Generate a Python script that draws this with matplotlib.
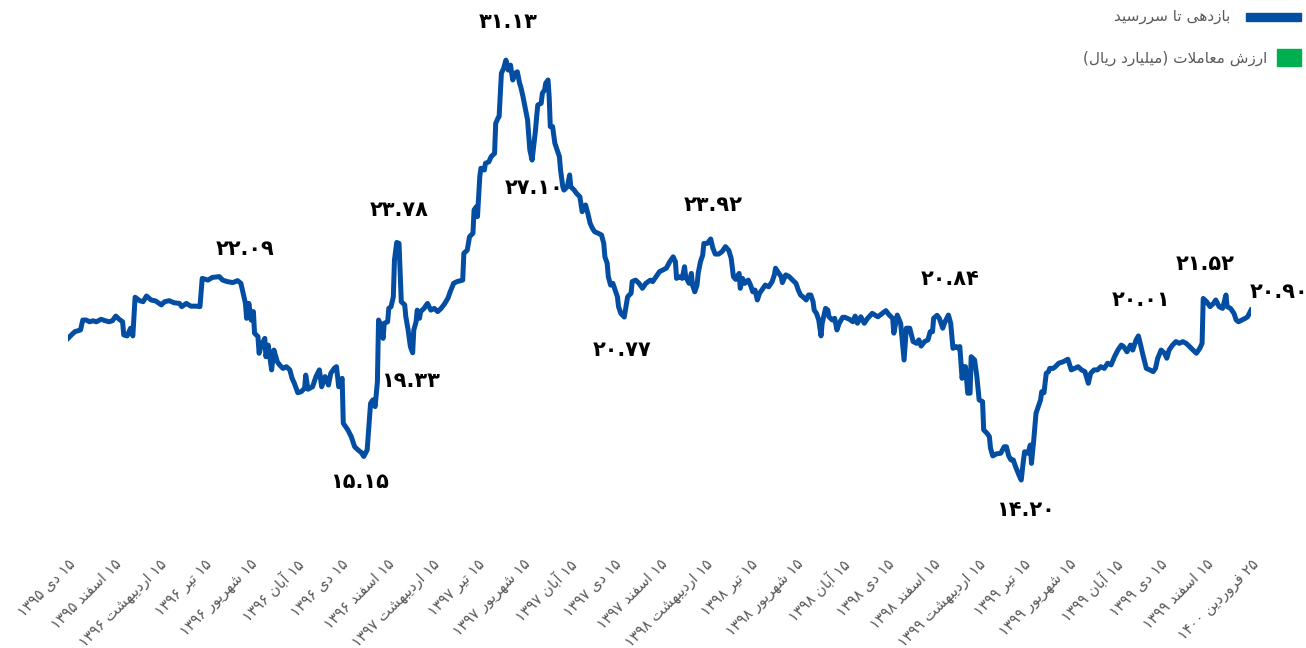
import re

import matplotlib
matplotlib.use("Agg")
import matplotlib.pyplot as plt
from matplotlib.patches import Rectangle

plt.rcParams['font.family'] = ['DejaVu Sans']

# trading-day number and yield to maturity (%)
days = [
    0, 3, 6, 9, 11, 13, 16, 19, 22, 25,
    29, 33, 36, 39, 42, 45, 48, 49, 52, 55,
    57, 59, 63, 66, 69, 73, 77, 82, 85, 89,
    93, 98, 100, 104, 108, 113, 116, 118, 123, 127,
    133, 136, 140, 145, 149, 152, 154, 156, 157, 159,
    161, 163, 164, 167, 168, 170, 173, 174, 176, 178,
    179, 181, 184, 186, 189, 192, 195, 197, 199, 202,
    205, 208, 209, 211, 215, 218, 221, 223, 226, 229,
    231, 234, 236, 238, 241, 242, 246, 249, 252, 255,
    258, 260, 263, 266, 268, 270, 272, 273, 275, 277,
    278, 281, 282, 284, 286, 287, 289, 291, 293, 296,
    297, 299, 301, 303, 304, 306, 307, 309, 310, 313,
    316, 319, 322, 325, 328, 331, 334, 336, 339, 342,
    347, 348, 351, 353, 356, 357, 359, 360, 362, 363,
    366, 367, 370, 372, 375, 376, 378, 379, 381, 383,
    385, 387, 389, 391, 393, 395, 397, 398, 400, 402,
    404, 406, 408, 409, 411, 412, 413, 416, 417, 419,
    420, 422, 423, 424, 426, 428, 430, 432, 433, 435,
    436, 439, 441, 442, 445, 447, 450, 452, 454, 455,
    457, 459, 461, 463, 466, 469, 471, 472, 474, 475,
    477, 479, 481, 483, 484, 486, 489, 490, 492, 495,
    496, 499, 502, 505, 508, 512, 514, 517, 520, 523,
    526, 529, 532, 534, 535, 537, 540, 542, 543, 546,
    548, 549, 551, 553, 554, 556, 558, 559, 562, 565,
    567, 569, 572, 575, 578, 581, 583, 585, 587, 590,
    591, 593, 595, 598, 600, 602, 604, 606, 608, 611,
    613, 616, 619, 621, 622, 625, 627, 628, 631, 634,
    637, 640, 642, 644, 646, 649, 651, 653, 655, 656,
    658, 660, 662, 663, 666, 668, 669, 672, 674, 676,
    678, 681, 683, 687, 690, 692, 694, 697, 700, 703,
    707, 712, 716, 719, 722, 725, 726, 729, 732, 735,
    737, 740, 743, 746, 748, 750, 753, 756, 758, 760,
    761, 764, 766, 769, 771, 774, 776, 778, 781, 783,
    784, 786, 788, 789, 791, 793, 794, 797, 799, 801,
    804, 805, 808, 810, 811, 813, 816, 820, 823, 825,
    827, 829, 831, 833, 836, 838, 840, 841, 844, 846,
    847, 849, 851, 853, 855, 856, 858, 860, 862, 863,
    866, 868, 871, 875, 879, 882, 885, 888, 891, 894,
    897, 899, 902, 905, 908, 911, 914, 917, 920, 923,
    926, 928, 931, 934, 936, 939, 941, 943, 945, 948,
    951, 954, 956, 958, 961, 964, 966, 968, 971, 974,
    977, 980, 983, 986, 989, 992, 995, 997, 998, 1001,
    1004, 1007, 1009, 1012, 1015, 1018, 1019, 1022, 1025, 1027,
    1029, 1032, 1035, 1037, 1040,
]
ytm = [
    19.91, 20.05, 20.18, 20.22, 20.25, 20.65, 20.65, 20.58, 20.62, 20.58,
    20.68, 20.62, 20.58, 20.62, 20.81, 20.68, 20.58, 20.05, 20.01, 20.32,
    20.01, 21.57, 21.43, 21.39, 21.62, 21.46, 21.42, 21.26, 21.39, 21.43,
    21.35, 21.32, 21.19, 21.32, 21.21, 21.21, 21.19, 22.33, 22.26, 22.37,
    22.40, 22.26, 22.20, 22.16, 22.24, 22.13, 21.73, 21.32, 20.72, 21.32,
    20.65, 20.99, 20.12, 19.98, 19.31, 19.64, 19.91, 19.17, 19.64, 18.97,
    18.64, 19.44, 18.97, 18.84, 18.70, 18.77, 18.64, 18.30, 18.10, 17.72,
    17.76, 17.90, 18.43, 17.86, 17.96, 18.37, 18.64, 17.96, 18.37, 18.03,
    18.50, 18.70, 18.77, 17.96, 18.30, 16.49, 16.22, 15.95, 15.54, 15.41,
    15.30, 15.15, 15.41, 17.29, 17.43, 17.16, 18.16, 20.65, 20.45, 19.91,
    20.52, 20.58, 21.12, 21.19, 21.59, 23.07, 23.78, 23.74, 21.39, 21.26,
    20.78, 20.25, 19.58, 19.33, 20.25, 20.58, 21.05, 20.72, 20.99, 21.12,
    21.32, 21.05, 21.12, 20.99, 21.12, 21.30, 21.53, 21.79, 22.13, 22.20,
    22.26, 23.34, 23.47, 24.01, 24.15, 25.09, 25.22, 24.82, 26.43, 26.77,
    26.70, 26.97, 27.03, 27.24, 27.37, 28.58, 28.79, 28.85, 30.60, 30.80,
    31.13, 30.73, 30.93, 30.33, 30.60, 30.66, 30.20, 30.06, 29.66, 29.19,
    28.72, 27.51, 27.10, 27.51, 28.31, 28.85, 29.32, 29.39, 29.79, 29.93,
    30.20, 30.33, 29.66, 28.45, 28.45, 27.78, 27.51, 27.24, 26.70, 26.03,
    25.89, 26.03, 26.50, 26.03, 25.89, 25.76, 25.62, 25.02, 25.22, 25.29,
    24.95, 24.55, 24.35, 24.21, 24.15, 24.08, 23.74, 23.20, 22.94, 22.40,
    22.06, 22.13, 21.86, 21.59, 21.19, 20.92, 20.77, 21.05, 21.59, 21.73,
    22.20, 22.26, 22.13, 21.93, 22.13, 22.26, 22.20, 22.40, 22.60, 22.67,
    22.74, 23.00, 23.20, 23.00, 22.33, 22.40, 22.33, 22.80, 22.40, 22.13,
    22.53, 22.06, 21.79, 22.06, 22.53, 23.00, 23.27, 23.74, 23.74, 23.92,
    23.54, 23.31, 23.31, 23.41, 23.61, 23.45, 23.14, 22.40, 22.29, 22.53,
    21.93, 22.33, 22.13, 22.26, 22.06, 21.79, 21.86, 21.46, 21.73, 21.93,
    22.06, 21.99, 22.20, 22.47, 22.74, 22.53, 22.40, 22.16, 22.47, 22.40,
    22.26, 22.13, 21.86, 21.66, 21.59, 21.46, 21.66, 21.66, 21.39, 21.05,
    20.92, 20.65, 20.01, 20.52, 21.12, 21.05, 20.78, 20.65, 20.72, 20.25,
    20.52, 20.76, 20.76, 20.68, 20.58, 20.81, 20.52, 20.78, 20.52, 20.72,
    20.92, 20.78, 20.92, 21.03, 20.85, 20.72, 20.12, 20.85, 20.52, 19.04,
    20.32, 20.32, 19.78, 19.71, 19.85, 19.60, 19.78, 19.85, 20.18, 20.18,
    20.72, 20.84, 20.72, 20.32, 20.58, 20.85, 20.52, 19.51, 19.58, 19.51,
    19.58, 18.30, 18.77, 18.77, 17.70, 17.70, 19.17, 19.04, 18.37, 17.43,
    17.36, 16.22, 16.08, 15.95, 15.48, 15.17, 15.25, 15.28, 15.54, 15.54,
    15.17, 15.01, 15.01, 14.74, 14.40, 14.20, 15.01, 15.34, 15.28, 15.61,
    14.87, 15.81, 16.89, 17.16, 17.43, 17.76, 17.72, 18.50, 18.57, 18.70,
    18.70, 18.77, 18.91, 18.97, 19.07, 18.64, 18.70, 18.77, 18.64, 18.57,
    18.10, 18.50, 18.64, 18.64, 18.77, 18.70, 18.91, 18.84, 19.17, 19.44,
    19.64, 19.58, 19.37, 19.64, 19.44, 19.85, 20.01, 19.64, 19.24, 18.70,
    18.64, 18.57, 18.70, 19.11, 19.44, 19.31, 19.11, 19.44, 19.64, 19.78,
    19.71, 19.78, 19.71, 19.58, 19.44, 19.31, 19.51, 19.71, 21.52, 21.39,
    21.19, 21.32, 21.46, 21.19, 21.12, 21.66, 21.19, 21.12, 20.92, 20.65,
    20.58, 20.65, 20.72, 20.78, 21.05,
]

tick_labels = [
    '۱۵ دی ۱۳۹۵', '۱۵ اسفند ۱۳۹۵', '۱۵ اردیبهشت ۱۳۹۶', '۱۵ تیر ۱۳۹۶',
    '۱۵ شهریور ۱۳۹۶', '۱۵ آبان ۱۳۹۶', '۱۵ دی ۱۳۹۶', '۱۵ اسفند ۱۳۹۶',
    '۱۵ اردیبهشت ۱۳۹۷', '۱۵ تیر ۱۳۹۷', '۱۵ شهریور ۱۳۹۷', '۱۵ آبان ۱۳۹۷',
    '۱۵ دی ۱۳۹۷', '۱۵ اسفند ۱۳۹۷', '۱۵ اردیبهشت ۱۳۹۸', '۱۵ تیر ۱۳۹۸',
    '۱۵ شهریور ۱۳۹۸', '۱۵ آبان ۱۳۹۸', '۱۵ دی ۱۳۹۸', '۱۵ اسفند ۱۳۹۸',
    '۱۵ اردیبهشت ۱۳۹۹', '۱۵ تیر ۱۳۹۹', '۱۵ شهریور ۱۳۹۹', '۱۵ آبان ۱۳۹۹',
    '۱۵ دی ۱۳۹۹', '۱۵ اسفند ۱۳۹۹', '۲۵ فروردین ۱۴۰۰',
]
tick_step = 40

# labelled points: day, label value
ann_days = [385, 133, 289, 303, 260, 408, 489, 565, 764, 838, 941, 998, 1040]
ann_values = [31.13, 22.09, 23.78, 19.33, 15.15, 27.10, 20.77, 23.92, 20.84,
              14.20, 20.01, 21.52, 20.90]

legend_labels = ['بازدهی تا سررسید', 'ارزش معاملات (میلیارد ریال)']

# --- Persian shaping (matplotlib has no RTL / joining support) ---
FORMS = {  # isolated, final, initial, medial
    'آ': ('\uFE81', '\uFE82'),
    'ا': ('\uFE8D', '\uFE8E'),
    'ب': ('\uFE8F', '\uFE90', '\uFE91', '\uFE92'),
    'ت': ('\uFE95', '\uFE96', '\uFE97', '\uFE98'),
    'د': ('\uFEA9', '\uFEAA'),
    'ر': ('\uFEAD', '\uFEAE'),
    'ز': ('\uFEAF', '\uFEB0'),
    'س': ('\uFEB1', '\uFEB2', '\uFEB3', '\uFEB4'),
    'ش': ('\uFEB5', '\uFEB6', '\uFEB7', '\uFEB8'),
    'ع': ('\uFEC9', '\uFECA', '\uFECB', '\uFECC'),
    'ف': ('\uFED1', '\uFED2', '\uFED3', '\uFED4'),
    'ل': ('\uFEDD', '\uFEDE', '\uFEDF', '\uFEE0'),
    'م': ('\uFEE1', '\uFEE2', '\uFEE3', '\uFEE4'),
    'ن': ('\uFEE5', '\uFEE6', '\uFEE7', '\uFEE8'),
    'ه': ('\uFEE9', '\uFEEA', '\uFEEB', '\uFEEC'),
    'و': ('\uFEED', '\uFEEE'),
    '\u06CC': ('\uFEEF', '\uFEF0', '\uFEF3', '\uFEF4'),
    '\u064A': ('\uFEEF', '\uFEF0', '\uFEF3', '\uFEF4'),
}


def shape(s):
    out = []
    i = 0
    while i < len(s):
        c = s[i]
        prev = s[i - 1] if i > 0 else ''
        joins_prev = prev in FORMS and len(FORMS[prev]) == 4
        if c == 'ل' and i + 1 < len(s) and s[i + 1] == 'ا':
            out.append('\uFEFC' if joins_prev else '\uFEFB')
            i += 2
            continue
        if c in FORMS:
            f = FORMS[c]
            nxt = s[i + 1] if i + 1 < len(s) else ''
            joins_next = len(f) == 4 and nxt in FORMS
            if joins_prev and joins_next:
                out.append(f[3])
            elif joins_prev:
                out.append(f[1])
            elif joins_next:
                out.append(f[2])
            else:
                out.append(f[0])
        else:
            out.append(c)
        i += 1
    return ''.join(out)


def fa(s):
    v = shape(s)[::-1]
    v = re.sub(r'[0-9۰-۹.]+', lambda m: m.group(0)[::-1], v)
    return v.translate(str.maketrans('()', ')('))


def fa_num(x):
    return '{:.2f}'.format(x).translate(str.maketrans('0123456789', '۰۱۲۳۴۵۶۷۸۹'))


W, H = 1306, 648
fig = plt.figure(figsize=(W / 100, H / 100), dpi=100)
ax = fig.add_axes([68 / W, 1 - 548 / H, (1251 - 68) / W, 508 / H])

blue = '#034EA2'
green = '#00B050'
grey = '#595959'

ax.plot(days, ytm, color=blue, lw=3.6, solid_joinstyle='round', zorder=3)
ax.set_xlim(0, 1040)
ax.set_ylim(11.458, 31.942)

ax.set_xticks(range(0, tick_step * len(tick_labels), tick_step))
ax.set_xticklabels([fa(t) for t in tick_labels], rotation=45, ha='right',
                   va='top', rotation_mode='anchor', fontsize=10.5, color=grey)
ax.tick_params(axis='x', length=0, pad=6)
ax.set_yticks([])
for sp in ax.spines.values():
    sp.set_visible(False)

offsets = [(2, 38), (26, 28), (2, 32), (-2, -28), (-4, -26), (2, -28), (-2, -33),
           (2, 34), (13, 36), (4, -30), (3, 36), (2, 34), (28, 18)]
for d, val, off in zip(ann_days, ann_values, offsets):
    ax.annotate(fa_num(val), xy=(d, ytm[days.index(d)]), xytext=off,
                textcoords='offset pixels', ha='center', va='center',
                fontsize=15, fontweight='bold', color='black', zorder=2,
                annotation_clip=False)

# legend (right-to-left layout)
fig.add_artist(Rectangle((1246 / W, 1 - 21 / H), 55 / W, 8 / H,
                         transform=fig.transFigure, color=blue))
fig.add_artist(Rectangle((1277 / W, 1 - 66 / H), 24 / W, 17 / H,
                         transform=fig.transFigure, color=green))
fig.text(1230 / W, 1 - 17 / H, fa(legend_labels[0]), ha='right', va='center',
         fontsize=11, color=grey)
fig.text(1267 / W, 1 - 58 / H, fa(legend_labels[1]), ha='right', va='center',
         fontsize=11, color=grey)

fig.savefig('out.png', dpi=100)
